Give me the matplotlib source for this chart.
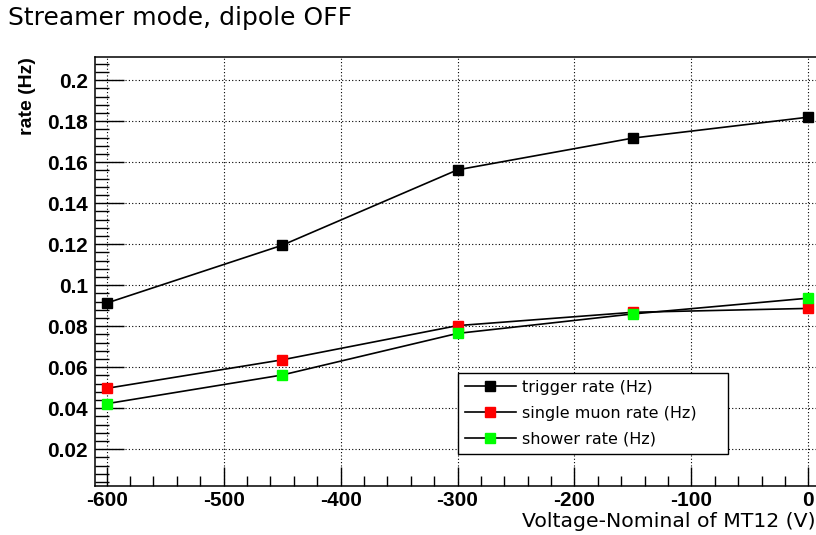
import matplotlib
matplotlib.use("Agg")
import matplotlib.pyplot as plt
from matplotlib.ticker import MultipleLocator, FuncFormatter

# Voltage offset from nominal (V)
voltage = [-600, -450, -300, -150, 0]
# Rates in Hz
trigger_rate = [0.0913, 0.1195, 0.1563, 0.1718, 0.182]
muon_rate = [0.0497, 0.0636, 0.0803, 0.0868, 0.0887]
shower_rate = [0.0422, 0.0562, 0.0765, 0.0860, 0.0937]

series = [
    ("trigger rate (Hz)", trigger_rate, "#000000"),
    ("single muon rate (Hz)", muon_rate, "#ff0000"),
    ("shower rate (Hz)", shower_rate, "#00ff00"),
]

W, H = 816, 535
fig = plt.figure(figsize=(W / 100, H / 100), dpi=100)
# axes frame in pixels: left 95, top 56.7, bottom 485.7; right edge runs off the picture
ax = fig.add_axes([95 / W, 1 - 485.7 / H, 725 / W, 429 / H])

for label, values, colour in series:
    ax.plot(
        voltage, values,
        color="black", lw=1.2,
        marker="s", markersize=7.5,
        markerfacecolor=colour, markeredgecolor=colour,
        label=label, zorder=3,
    )

ax.set_xlim(-610, 10)
ax.set_ylim(0.0022, 0.2115)

ax.xaxis.set_major_locator(MultipleLocator(100))
ax.xaxis.set_minor_locator(MultipleLocator(20))
ax.yaxis.set_major_locator(MultipleLocator(0.02))
ax.yaxis.set_minor_locator(MultipleLocator(0.004))
ax.yaxis.set_major_formatter(FuncFormatter(lambda v, p: "%g" % round(v, 4)))
ax.xaxis.set_major_formatter(FuncFormatter(lambda v, p: "%d" % v))

ax.tick_params(axis="both", which="both", direction="in", top=False, right=False,
               width=1, color="black")
ax.tick_params(axis="x", which="major", length=14, pad=4)
ax.tick_params(axis="x", which="minor", length=7)
ax.tick_params(axis="y", which="major", length=21, pad=5)
ax.tick_params(axis="y", which="minor", length=10)
for lab in ax.get_xticklabels() + ax.get_yticklabels():
    lab.set_fontfamily("Liberation Sans")
    lab.set_fontweight("bold")
    lab.set_fontsize(15)

ax.grid(True, which="major", color="black", lw=0.8, linestyle=(0, (1, 2)))

for s in ax.spines.values():
    s.set_linewidth(1.1)

ax.set_ylabel("rate (Hz)", family="Liberation Sans", fontweight="bold",
              fontsize=14, loc="top")
ax.yaxis.set_label_coords(-0.081, 1.0)
ax.set_xlabel("Voltage-Nominal of MT12 (V)", fontsize=14.7)
ax.xaxis.set_label_coords(721 / 725, -0.061, transform=ax.transAxes)
ax.xaxis.label.set_horizontalalignment("right")
ax.xaxis.label.set_verticalalignment("top")

fig.text(8 / W, 1 - 18 / H, "Streamer mode, dipole OFF", fontsize=18,
         ha="left", va="center")

leg_x0 = (457.7 - 95) / 725
leg_y1 = (485.7 - 372.7) / 429
leg_w = (728 - 457.7) / 725
leg_h = (451 - 372.7) / 429
leg = ax.legend(
    loc="upper left",
    bbox_to_anchor=(leg_x0, leg_y1 - leg_h, leg_w, leg_h),
    mode="expand",
    borderaxespad=0, fontsize=11.5, handlelength=3.2, handletextpad=0.4,
    labelspacing=0.68, borderpad=0.45, fancybox=False, framealpha=1,
    edgecolor="black",
)
leg.get_frame().set_linewidth(1.0)

fig.savefig("out.png", dpi=100)
